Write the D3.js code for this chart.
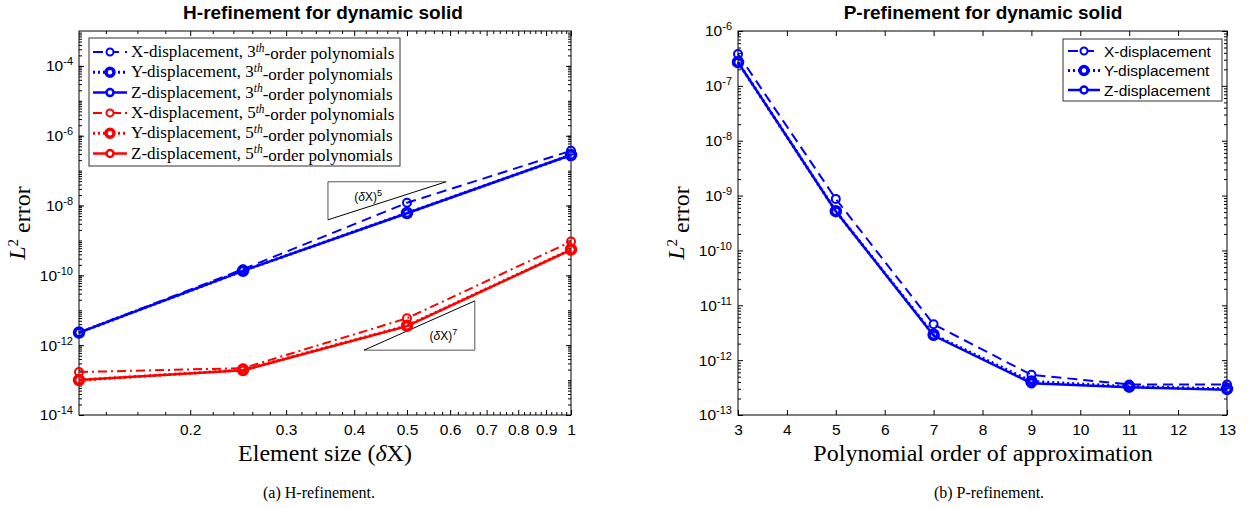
<!DOCTYPE html>
<html>
<head>
<meta charset="utf-8">
<script src="https://cdn.jsdelivr.net/npm/d3@7"></script>
<style>
  body { margin: 0; background: #fff; }
  .sans { font-family: "Liberation Sans", Arial, sans-serif; }
  .serif { font-family: "Liberation Serif", "Times New Roman", serif; }
</style>
</head>
<body>
<svg id="chart" width="1252" height="508"></svg>
<script>
// ---- H-refinement data (element size vs L2 error) ----
const hSizes = [0.125, 0.25, 0.5, 1];
const hX3 = [2.3e-12, 1.5e-10, 1.2e-8, 3.7e-7];
const hY3 = [2.3e-12, 1.35e-10, 6.1e-9, 2.8e-7];
const hZ3 = [2.3e-12, 1.35e-10, 6.0e-9, 2.8e-7];
const hX5 = [1.7e-13, 2.2e-13, 5.9e-12, 9.3e-10];
const hY5 = [1.0e-13, 1.95e-13, 3.6e-12, 5.5e-10];
const hZ5 = [1.0e-13, 1.9e-13, 3.5e-12, 5.4e-10];

// ---- P-refinement data (polynomial order vs L2 error) ----
const pOrders = [3, 5, 7, 9, 11, 13];
const pX = [3.8e-7, 8.7e-10, 4.5e-12, 5.4e-13, 3.6e-13, 3.6e-13];
const pY = [2.7e-7, 5.2e-10, 2.9e-12, 4.1e-13, 3.3e-13, 3.0e-13];
const pZ = [2.7e-7, 5.2e-10, 2.8e-12, 3.8e-13, 3.2e-13, 2.9e-13];

// ---- tick labels ----
const hXTicks = [0.2, 0.3, 0.4, 0.5, 0.6, 0.7, 0.8, 0.9, 1];
const hYExps = [-14, -12, -10, -8, -6, -4];
const pXTicks = [3, 4, 5, 6, 7, 8, 9, 10, 11, 12, 13];
const pYExps = [-13, -12, -11, -10, -9, -8, -7, -6];

// ---- convergence-rate triangles, in data units ----
const slopeTriangles = [
    { order: 5, x0: 0.358, x1: 0.59, yLow: 3.9e-9, yHigh: 4.8e-8, corner: 'top', lx: 0.40, ly: 1.35e-8 },
    { order: 7, x0: 0.417, x1: 0.666, yLow: 7.2e-13, yHigh: 1.86e-11, corner: 'bottom', lx: 0.55, ly: 1.4e-12 }
];

const BLUE = '#0000ff', RED = '#ff0000';
const styles = {
    X: { dash: '10,6', r: 4, sw: 2, mw: 2 },
    Y: { dash: '2,3', r: 4.5, sw: 3, mw: 3.5 },
    Z: { dash: null, r: 4, sw: 2.5, mw: 2.5 },
    XD: { dash: '9,4,2,4', r: 4, sw: 2, mw: 2 }
};

const svg = d3.select('#chart');

/**
 * Writes 10^exp into a text selection.
 */
function powLabel(text, exp) {
    text.text(null);
    text.append('tspan').text('10');
    text.append('tspan').attr('dy', '-0.55em').attr('font-size', 11).text(exp);
}

/**
 * Box, inward ticks on all sides, labels on left and bottom.
 */
function drawAxes(g, x, y, opt) {
    const [xa, xb] = x.range(), [yb, ya] = y.range();

    const sides = [
        { ax: d3.axisBottom(x), t: `translate(0,${yb})`, lab: true, isX: true },
        { ax: d3.axisTop(x), t: `translate(0,${ya})`, lab: false, isX: true },
        { ax: d3.axisLeft(y), t: `translate(${xa},0)`, lab: true, isX: false },
        { ax: d3.axisRight(y), t: `translate(${xb},0)`, lab: false, isX: false }
    ];

    sides.forEach(s => {
        const minor = s.isX ? opt.xMinor : opt.yMinor;
        const major = s.isX ? opt.xMajor : opt.yMajor;
        if (minor.length) {
            g.append('g').attr('transform', s.t)
                .call(s.ax.tickValues(minor).tickSizeInner(-3).tickSizeOuter(0).tickFormat(''))
                .call(a => a.select('.domain').remove())
                .call(a => a.selectAll('text').remove());
        }
        const ax = g.append('g').attr('transform', s.t)
            .call(s.ax.tickValues(major).tickSizeInner(-5).tickSizeOuter(0)
                .tickPadding(s.isX ? 9 : 6).tickFormat(s.isX ? opt.xFormat : d => d))
            .call(a => a.select('.domain').remove());
        ax.selectAll('line').attr('stroke', '#000');
        const txt = ax.selectAll('text')
            .attr('class', 'sans').attr('font-size', 15.5).attr('fill', '#000');
        if (!s.lab) txt.remove();
        else if (!s.isX) txt.each(function(d) { powLabel(d3.select(this), Math.round(Math.log10(d))); });
    });

    g.append('rect')
        .attr('x', xa).attr('y', ya).attr('width', xb - xa).attr('height', yb - ya)
        .attr('fill', 'none').attr('stroke', '#000').attr('stroke-width', 1);
}

/**
 * Draws one series: line + circle markers.
 */
function drawSeries(g, x, y, xs, ys, color, st) {
    const pts = xs.map((v, i) => [v, ys[i]]);
    const line = d3.line().x(d => x(d[0])).y(d => y(d[1]));
    g.append('path').attr('d', line(pts))
        .attr('fill', 'none').attr('stroke', color).attr('stroke-width', st.sw)
        .attr('stroke-dasharray', st.dash);
    g.selectAll(null).data(pts).enter().append('circle')
        .attr('cx', d => x(d[0])).attr('cy', d => y(d[1])).attr('r', st.r)
        .attr('fill', 'none').attr('stroke', color).attr('stroke-width', st.mw);
}

function legendSample(g, x0, x1, yy, color, st) {
    g.append('line').attr('x1', x0).attr('x2', x1).attr('y1', yy).attr('y2', yy)
        .attr('stroke', color).attr('stroke-width', st.sw).attr('stroke-dasharray', st.dash);
    g.append('circle').attr('cx', (x0 + x1) / 2).attr('cy', yy).attr('r', st.r - 0.5)
        .attr('fill', '#fff').attr('stroke', color).attr('stroke-width', st.mw);
}

function yLabel(g, cx, cy) {
    const t = g.append('text').attr('class', 'serif').attr('font-size', 24)
        .attr('transform', `translate(${cx},${cy}) rotate(-90)`).attr('text-anchor', 'middle');
    t.append('tspan').attr('font-style', 'italic').text('L');
    t.append('tspan').attr('dy', '-0.5em').attr('font-size', 15).text('2');
    t.append('tspan').attr('dy', '0.5em').text('\u00a0error');
}

// ================= Panel (a): H-refinement =================
(function() {
    const g = svg.append('g');
    const x = d3.scaleLog().domain([0.125, 1]).range([79, 571]);
    const y = d3.scaleLog().domain([1e-14, 1e-3]).range([415, 31]);

    const yMinor = [];
    for (let e = -14; e < -3; e++) for (let m = 1; m <= 9; m++) yMinor.push(m * Math.pow(10, e));
    const xMinor = d3.range(0.14, 1.0, 0.02).filter(v => Math.abs(v * 10 - Math.round(v * 10)) > 1e-6);

    drawAxes(g, x, y, {
        xMajor: hXTicks, xMinor: xMinor, xFormat: d => d,
        yMajor: hYExps.map(e => Math.pow(10, e)), yMinor: yMinor
    });

    // Slope triangles
    slopeTriangles.forEach(t => {
        const a = [x(t.x0), y(t.yLow)], b = [x(t.x1), y(t.yHigh)];
        const c = t.corner === 'top' ? [x(t.x0), y(t.yHigh)] : [x(t.x1), y(t.yLow)];
        g.append('path').attr('d', d3.line()([a, c, b]))
            .attr('fill', 'none').attr('stroke', '#555').attr('stroke-width', 1);
        g.append('path').attr('d', d3.line()([a, b]))
            .attr('fill', 'none').attr('stroke', '#000').attr('stroke-width', 1);
        const lt = g.append('text').attr('class', 'sans').attr('font-size', 12)
            .attr('x', x(t.lx)).attr('y', y(t.ly));
        lt.append('tspan').text('(');
        lt.append('tspan').attr('font-style', 'italic').text('\u03b4');
        lt.append('tspan').text('X)');
        lt.append('tspan').attr('dy', '-0.6em').attr('font-size', 9).text(t.order);
    });

    const series = [
        [hX3, BLUE, styles.X], [hY3, BLUE, styles.Y], [hZ3, BLUE, styles.Z],
        [hX5, RED, styles.XD], [hY5, RED, styles.Y], [hZ5, RED, styles.Z]
    ];
    series.forEach(s => drawSeries(g, x, y, hSizes, s[0], s[1], s[2]));

    // Legend
    const names = ['X', 'Y', 'Z', 'X', 'Y', 'Z'];
    const orders = ['3', '3', '3', '5', '5', '5'];
    const lg = g.append('g');
    lg.append('rect').attr('x', 89).attr('y', 38).attr('width', 311).attr('height', 128)
        .attr('fill', '#fff').attr('stroke', '#333').attr('stroke-width', 1);
    series.forEach((s, i) => {
        const yy = 52 + i * 20.3;
        legendSample(lg, 93, 127, yy, s[1], s[2]);
        const t = lg.append('text').attr('class', 'serif').attr('font-size', 17)
            .attr('x', 131).attr('y', yy + 5);
        t.append('tspan').text(names[i] + '-displacement, ' + orders[i]);
        t.append('tspan').attr('dy', '-0.45em').attr('font-size', 11.5).attr('font-style', 'italic').text('th');
        t.append('tspan').attr('dy', '0.45em').text('-order polynomials');
    });

    // Titles and labels
    g.append('text').attr('class', 'sans').attr('font-size', 19).attr('font-weight', 'bold')
        .attr('text-anchor', 'middle').attr('x', 323).attr('y', 19)
        .text('H-refinement for dynamic solid');
    const xl = g.append('text').attr('class', 'serif').attr('font-size', 24)
        .attr('text-anchor', 'middle').attr('x', 325).attr('y', 461);
    xl.append('tspan').text('Element size (');
    xl.append('tspan').attr('font-style', 'italic').text('\u03b4');
    xl.append('tspan').text('X)');
    yLabel(g, 25, 223);
    g.append('text').attr('class', 'serif').attr('font-size', 16)
        .attr('text-anchor', 'middle').attr('x', 319).attr('y', 498).text('(a)  H-refinement.');
})();

// ================= Panel (b): P-refinement =================
(function() {
    const g = svg.append('g');
    const x = d3.scaleLinear().domain([3, 13]).range([738, 1227]);
    const y = d3.scaleLog().domain([1e-13, 1e-6]).range([415, 31]);

    const yMinor = [];
    for (let e = -13; e < -6; e++) for (let m = 2; m <= 9; m++) yMinor.push(m * Math.pow(10, e));

    drawAxes(g, x, y, {
        xMajor: pXTicks, xMinor: [], xFormat: d => d,
        yMajor: pYExps.map(e => Math.pow(10, e)), yMinor: yMinor
    });

    const series = [[pX, BLUE, styles.X], [pY, BLUE, styles.Y], [pZ, BLUE, styles.Z]];
    series.forEach(s => drawSeries(g, x, y, pOrders, s[0], s[1], s[2]));

    const names = ['X-displacement', 'Y-displacement', 'Z-displacement'];
    const lg = g.append('g');
    lg.append('rect').attr('x', 1063).attr('y', 39).attr('width', 159).attr('height', 62)
        .attr('fill', '#fff').attr('stroke', '#333').attr('stroke-width', 1);
    series.forEach((s, i) => {
        const yy = 51 + i * 19.5;
        legendSample(lg, 1068, 1100, yy, s[1], s[2]);
        lg.append('text').attr('class', 'sans').attr('font-size', 15.5)
            .attr('x', 1104).attr('y', yy + 5.5).text(names[i]);
    });

    g.append('text').attr('class', 'sans').attr('font-size', 19).attr('font-weight', 'bold')
        .attr('text-anchor', 'middle').attr('x', 983).attr('y', 19)
        .text('P-refinement for dynamic solid');
    g.append('text').attr('class', 'serif').attr('font-size', 24)
        .attr('text-anchor', 'middle').attr('x', 983).attr('y', 461)
        .text('Polynomial order of approximation');
    yLabel(g, 684, 223);
    g.append('text').attr('class', 'serif').attr('font-size', 16)
        .attr('text-anchor', 'middle').attr('x', 989).attr('y', 498).text('(b)  P-refinement.');
})();
</script>
</body>
</html>
